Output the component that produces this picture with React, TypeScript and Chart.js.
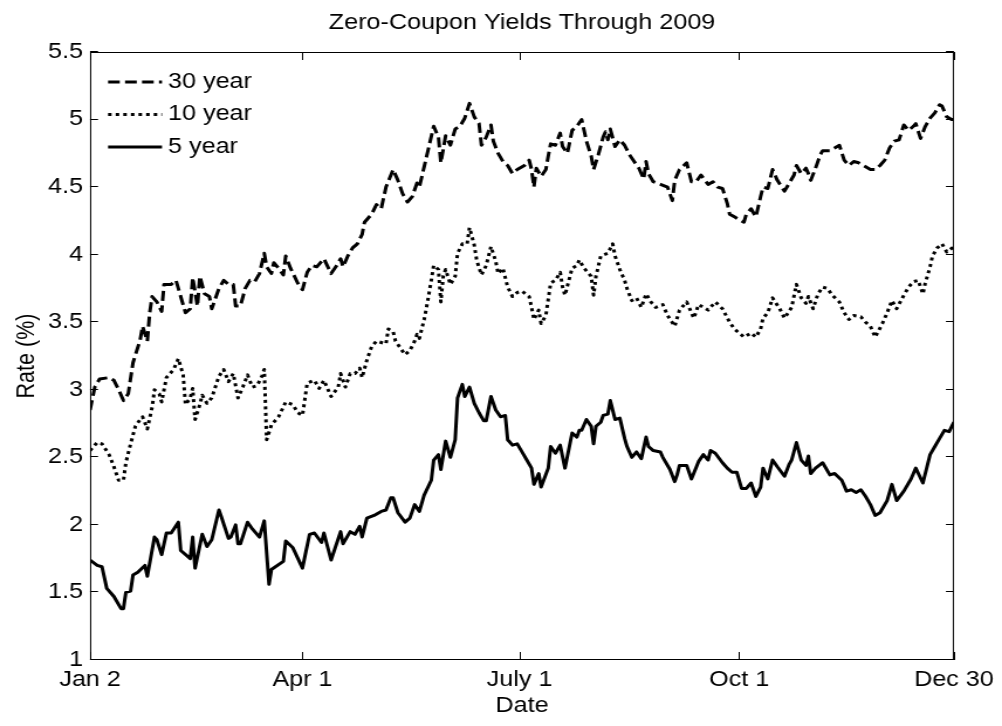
import React, { useEffect, useRef } from 'react';
import { Chart, registerables } from 'chart.js';

Chart.register(...registerables);

const FONT = '"Liberation Sans", Arial, Helvetica, sans-serif';
const TEXT_SIZE = 21.5;
const TITLE_SIZE = 21.5;

// The figure is drawn on a canvas that is displayed slightly stretched horizontally,
// like the reference figure export.
const PAGE_W = 1002;
const PAGE_H = 726;
const STRETCH = 1.17;
const CANVAS_W = Math.round(PAGE_W / STRETCH);

const chartTitle = 'Zero-Coupon Yields Through 2009';
const xAxisTitle = 'Date';
const yAxisTitle = 'Rate (%)';

// x = day of 2009 (Jan 1 = 0)
const xTickDays = [1, 90, 181, 273, 363];
const xTickLabels = ['Jan 2', 'Apr 1', 'July 1', 'Oct 1', 'Dec 30'];
const yTickValues = [1, 1.5, 2, 2.5, 3, 3.5, 4, 4.5, 5, 5.5];

const seriesLabels = ['30 year', '10 year', '5 year'];

const thirtyYearDays = [1, 3, 5, 9, 11, 13, 15, 17, 19, 22, 23, 25, 26, 27, 29, 31, 32, 35, 37, 39, 41, 43, 44, 46, 47, 49, 51, 52, 55, 57, 59, 61, 62, 64, 66, 68, 70, 72, 74, 75, 77, 78, 80, 82, 83, 85, 88, 90, 92, 94, 96, 99, 102, 104, 106, 107, 109, 111, 113, 115, 116, 119, 121, 123, 125, 128, 130, 132, 134, 136, 138, 139, 141, 143, 145, 147, 148, 150, 152, 154, 156, 158, 160, 162, 164, 165, 167, 169, 170, 172, 174, 176, 178, 180, 183, 185, 186, 187, 188, 190, 192, 193, 194, 196, 198, 199, 201, 203, 205, 207, 208, 209, 211, 212, 214, 216, 217, 218, 219, 221, 223, 225, 227, 229, 231, 233, 234, 235, 237, 240, 243, 245, 246, 248, 251, 253, 255, 257, 260, 262, 264, 266, 268, 269, 271, 273, 275, 276, 278, 280, 282, 283, 285, 287, 289, 292, 294, 296, 297, 299, 301, 302, 303, 305, 307, 308, 311, 313, 315, 317, 319, 321, 323, 326, 328, 330, 332, 334, 336, 338, 340, 342, 344, 346, 347, 349, 351, 353, 355, 357, 358, 360, 362, 363];
const thirtyYearRates = [2.85, 3.02, 3.08, 3.09, 3.07, 3.00, 2.92, 2.97, 3.20, 3.37, 3.47, 3.36, 3.57, 3.69, 3.65, 3.58, 3.78, 3.78, 3.81, 3.69, 3.57, 3.60, 3.83, 3.62, 3.84, 3.71, 3.69, 3.60, 3.75, 3.81, 3.78, 3.78, 3.62, 3.62, 3.75, 3.81, 3.80, 3.86, 4.01, 3.91, 3.86, 3.94, 3.90, 3.85, 3.99, 3.90, 3.79, 3.74, 3.87, 3.92, 3.91, 3.97, 3.86, 3.91, 3.97, 3.91, 3.99, 4.05, 4.08, 4.15, 4.24, 4.30, 4.37, 4.34, 4.50, 4.63, 4.55, 4.45, 4.39, 4.43, 4.53, 4.50, 4.65, 4.80, 4.95, 4.87, 4.68, 4.88, 4.81, 4.93, 4.95, 5.01, 5.12, 5.02, 4.97, 4.81, 4.87, 4.96, 4.84, 4.75, 4.69, 4.66, 4.60, 4.63, 4.66, 4.70, 4.63, 4.50, 4.64, 4.58, 4.63, 4.73, 4.82, 4.81, 4.90, 4.80, 4.75, 4.92, 4.95, 5.00, 4.92, 4.84, 4.73, 4.63, 4.74, 4.87, 4.91, 4.85, 4.93, 4.80, 4.85, 4.81, 4.74, 4.69, 4.64, 4.56, 4.69, 4.60, 4.54, 4.52, 4.50, 4.40, 4.55, 4.63, 4.68, 4.54, 4.54, 4.59, 4.52, 4.54, 4.50, 4.49, 4.38, 4.30, 4.28, 4.26, 4.24, 4.30, 4.34, 4.28, 4.43, 4.50, 4.49, 4.63, 4.55, 4.47, 4.53, 4.59, 4.66, 4.60, 4.64, 4.60, 4.55, 4.64, 4.74, 4.77, 4.77, 4.79, 4.81, 4.70, 4.66, 4.69, 4.68, 4.65, 4.63, 4.63, 4.66, 4.70, 4.79, 4.84, 4.85, 4.96, 4.92, 4.95, 4.97, 4.86, 4.95, 5.01, 5.05, 5.11, 5.10, 5.02, 5.00, 5.00];

const tenYearDays = [1, 4, 6, 9, 11, 13, 15, 16, 18, 20, 22, 23, 25, 27, 28, 30, 31, 33, 36, 38, 40, 41, 43, 44, 45, 47, 48, 50, 52, 55, 57, 59, 61, 63, 65, 67, 69, 71, 73, 74, 75, 77, 80, 83, 86, 88, 90, 92, 95, 97, 99, 102, 105, 106, 108, 110, 112, 114, 115, 117, 119, 121, 123, 125, 126, 128, 129, 131, 133, 135, 137, 138, 139, 141, 142, 144, 145, 147, 148, 149, 150, 152, 154, 155, 157, 159, 160, 162, 163, 165, 167, 169, 171, 172, 174, 176, 178, 180, 182, 185, 186, 187, 189, 190, 192, 194, 196, 198, 199, 200, 203, 205, 206, 208, 211, 212, 213, 215, 218, 220, 221, 223, 225, 226, 228, 230, 232, 234, 236, 238, 241, 243, 246, 248, 251, 254, 256, 260, 263, 266, 269, 271, 275, 278, 280, 282, 283, 285, 287, 290, 292, 295, 297, 299, 301, 302, 304, 306, 308, 310, 312, 315, 317, 319, 321, 324, 326, 328, 330, 333, 335, 337, 339, 342, 344, 346, 348, 350, 351, 353, 354, 356, 358, 360, 363];
const tenYearRates = [2.55, 2.61, 2.60, 2.52, 2.43, 2.33, 2.33, 2.46, 2.60, 2.73, 2.78, 2.80, 2.71, 2.87, 3.00, 2.97, 2.91, 3.09, 3.15, 3.23, 3.11, 2.89, 2.94, 3.01, 2.78, 2.89, 2.96, 2.90, 2.94, 3.10, 3.15, 3.06, 3.12, 2.94, 3.02, 3.11, 3.02, 3.03, 3.10, 3.15, 2.63, 2.74, 2.80, 2.91, 2.89, 2.83, 2.81, 3.05, 3.07, 3.01, 3.07, 2.95, 3.02, 3.12, 3.02, 3.12, 3.12, 3.16, 3.09, 3.22, 3.32, 3.36, 3.35, 3.34, 3.45, 3.43, 3.36, 3.31, 3.26, 3.29, 3.36, 3.41, 3.38, 3.52, 3.61, 3.81, 3.92, 3.89, 3.65, 3.84, 3.89, 3.78, 3.84, 4.01, 4.08, 4.08, 4.20, 4.07, 3.96, 3.85, 3.92, 4.06, 3.95, 3.86, 3.90, 3.76, 3.69, 3.72, 3.73, 3.69, 3.61, 3.52, 3.59, 3.49, 3.55, 3.79, 3.81, 3.87, 3.76, 3.70, 3.90, 3.92, 3.96, 3.90, 3.84, 3.70, 3.84, 3.99, 4.01, 4.08, 3.99, 3.89, 3.81, 3.75, 3.66, 3.68, 3.61, 3.71, 3.65, 3.61, 3.63, 3.55, 3.47, 3.59, 3.65, 3.53, 3.63, 3.59, 3.65, 3.60, 3.50, 3.45, 3.39, 3.42, 3.39, 3.45, 3.53, 3.57, 3.68, 3.60, 3.53, 3.61, 3.78, 3.68, 3.64, 3.69, 3.60, 3.71, 3.76, 3.75, 3.70, 3.65, 3.57, 3.52, 3.55, 3.54, 3.50, 3.47, 3.39, 3.49, 3.57, 3.66, 3.60, 3.70, 3.76, 3.80, 3.81, 3.71, 3.79, 3.91, 3.99, 4.05, 4.08, 4.02, 4.06];

const fiveYearDays = [1, 4, 6, 8, 11, 14, 15, 16, 18, 19, 21, 24, 25, 28, 29, 31, 33, 35, 38, 39, 43, 44, 45, 48, 50, 52, 55, 56, 59, 60, 62, 63, 64, 67, 69, 72, 74, 76, 77, 82, 83, 86, 90, 93, 95, 98, 99, 102, 106, 107, 110, 112, 114, 115, 117, 120, 123, 125, 127, 128, 130, 133, 135, 137, 139, 141, 144, 145, 147, 148, 150, 152, 154, 155, 157, 158, 160, 162, 164, 166, 167, 169, 171, 173, 175, 176, 178, 180, 182, 184, 186, 187, 189, 190, 193, 194, 196, 198, 200, 203, 205, 206, 207, 209, 211, 212, 213, 215, 216, 218, 219, 221, 223, 225, 226, 228, 230, 232, 234, 235, 237, 240, 241, 244, 246, 247, 248, 251, 253, 256, 258, 260, 261, 263, 266, 268, 270, 272, 274, 276, 278, 280, 282, 283, 285, 287, 289, 292, 294, 295, 297, 299, 301, 302, 303, 305, 308, 311, 313, 316, 318, 320, 322, 324, 326, 328, 330, 332, 335, 337, 339, 342, 345, 347, 350, 351, 353, 355, 357, 359, 361, 363];
const fiveYearRates = [1.74, 1.70, 1.69, 1.53, 1.47, 1.38, 1.38, 1.50, 1.51, 1.63, 1.65, 1.70, 1.62, 1.91, 1.89, 1.78, 1.94, 1.94, 2.02, 1.81, 1.75, 1.91, 1.68, 1.93, 1.84, 1.89, 2.11, 2.06, 1.90, 1.91, 2.00, 1.86, 1.86, 2.02, 1.97, 1.91, 2.03, 1.56, 1.67, 1.73, 1.88, 1.83, 1.68, 1.93, 1.94, 1.87, 1.94, 1.74, 1.95, 1.86, 1.95, 1.93, 1.99, 1.91, 2.05, 2.07, 2.10, 2.11, 2.20, 2.20, 2.09, 2.02, 2.05, 2.15, 2.10, 2.22, 2.33, 2.48, 2.52, 2.41, 2.62, 2.50, 2.63, 2.94, 3.04, 2.95, 3.02, 2.90, 2.83, 2.77, 2.77, 2.95, 2.85, 2.80, 2.81, 2.63, 2.59, 2.60, 2.54, 2.48, 2.42, 2.30, 2.38, 2.28, 2.42, 2.58, 2.53, 2.59, 2.42, 2.68, 2.65, 2.70, 2.70, 2.78, 2.73, 2.60, 2.73, 2.76, 2.81, 2.82, 2.92, 2.78, 2.79, 2.64, 2.58, 2.50, 2.54, 2.49, 2.65, 2.58, 2.55, 2.54, 2.50, 2.41, 2.32, 2.37, 2.44, 2.44, 2.34, 2.47, 2.52, 2.48, 2.55, 2.53, 2.46, 2.42, 2.39, 2.39, 2.27, 2.27, 2.31, 2.21, 2.28, 2.42, 2.34, 2.48, 2.43, 2.36, 2.45, 2.48, 2.61, 2.48, 2.44, 2.51, 2.38, 2.42, 2.46, 2.37, 2.38, 2.33, 2.25, 2.26, 2.24, 2.26, 2.21, 2.15, 2.07, 2.09, 2.18, 2.30, 2.18, 2.25, 2.34, 2.42, 2.31, 2.38, 2.52, 2.58, 2.64, 2.70, 2.69, 2.76];

const toPoints = (days: number[], rates: number[]) =>
  days.map((d, i) => ({ x: d, y: rates[i] }));

const framePlugin = {
  id: 'matlabFrame',
  afterDraw(chart: any) {
    const { ctx, chartArea, scales } = chart;
    const { left, right, top, bottom } = chartArea;
    const hTick = 8 / STRETCH;
    const vTick = 8;
    ctx.save();
    ctx.setLineDash([]);
    ctx.strokeStyle = '#000';
    ctx.lineWidth = 1;
    ctx.strokeRect(left + 0.5, top + 0.5, right - left - 1, bottom - top - 1);
    ctx.beginPath();
    yTickValues.forEach((v) => {
      const py = Math.round(scales.y.getPixelForValue(v)) - 0.5;
      ctx.moveTo(left, py);
      ctx.lineTo(left + hTick, py);
      ctx.moveTo(right, py);
      ctx.lineTo(right - hTick, py);
    });
    xTickDays.forEach((v) => {
      const px = Math.round(scales.x.getPixelForValue(v)) + 0.5;
      ctx.moveTo(px, bottom);
      ctx.lineTo(px, bottom - vTick);
      ctx.moveTo(px, top);
      ctx.lineTo(px, top + vTick);
    });
    ctx.stroke();
    // title, centred over the axes box
    ctx.font = `${TITLE_SIZE}px ${FONT}`;
    ctx.fillStyle = '#000';
    ctx.textAlign = 'center';
    ctx.textBaseline = 'middle';
    ctx.fillText(chartTitle, (left + right) / 2, 23);
    ctx.restore();
  },
};

const legendPlugin = {
  id: 'insideLegend',
  afterDatasetsDraw(chart: any) {
    const { ctx, chartArea } = chart;
    const { left, top } = chartArea;
    chart.data.datasets.forEach((ds: any, i: number) => {
      const yy = top + 30 + i * 32.5;
      ctx.save();
      ctx.strokeStyle = ds.borderColor;
      ctx.lineWidth = ds.borderWidth;
      ctx.lineCap = 'butt';
      ctx.setLineDash(ds.borderDash || []);
      ctx.beginPath();
      ctx.moveTo(left + 15.4, yy);
      ctx.lineTo(left + 61.5, yy);
      ctx.stroke();
      ctx.setLineDash([]);
      ctx.font = `${TEXT_SIZE}px ${FONT}`;
      ctx.fillStyle = '#000';
      ctx.textBaseline = 'middle';
      ctx.textAlign = 'left';
      ctx.fillText(ds.label, left + 66.6, yy);
      ctx.restore();
    });
  },
};

export default function App() {
  const canvasRef = useRef<HTMLCanvasElement>(null);

  useEffect(() => {
    const canvas = canvasRef.current;
    if (!canvas) return;
    const font = { family: FONT, size: TEXT_SIZE, weight: 'normal' as const };
    const lineStyle = {
      borderColor: '#000',
      borderWidth: 3,
      pointRadius: 0,
      tension: 0,
      fill: false,
      borderJoinStyle: 'round' as const,
      borderCapStyle: 'butt' as const,
    };
    const chart = new Chart(canvas, {
      type: 'line',
      data: {
        datasets: [
          { ...lineStyle, label: seriesLabels[0], data: toPoints(thirtyYearDays, thirtyYearRates), borderDash: [10, 4.5] },
          { ...lineStyle, label: seriesLabels[1], data: toPoints(tenYearDays, tenYearRates), borderDash: [3, 3.5] },
          { ...lineStyle, label: seriesLabels[2], data: toPoints(fiveYearDays, fiveYearRates), borderDash: [] },
        ],
      },
      options: {
        responsive: false,
        animation: false,
        devicePixelRatio: 1,
        layout: { padding: { left: 0, right: CANVAS_W - 958 / STRETCH, top: 52, bottom: 0 } },
        plugins: {
          legend: { display: false },
          tooltip: { enabled: false },
          title: { display: false },
        },
        scales: {
          x: {
            type: 'linear',
            min: 1,
            max: 363,
            afterBuildTicks: (scale: any) => {
              scale.ticks = xTickDays.map((v) => ({ value: v }));
            },
            afterFit: (scale: any) => {
              scale.height = 66;
            },
            ticks: {
              autoSkip: false,
              maxRotation: 0,
              padding: 7,
              color: '#000',
              font,
              callback: (v: any) => xTickLabels[xTickDays.indexOf(Number(v))],
            },
            grid: { display: false, drawTicks: false },
            border: { display: false },
            title: { display: true, text: xAxisTitle, color: '#000', font, padding: { top: 0, bottom: 7 } },
          },
          y: {
            type: 'linear',
            min: 1,
            max: 5.5,
            afterBuildTicks: (scale: any) => {
              scale.ticks = yTickValues.map((v) => ({ value: v }));
            },
            afterFit: (scale: any) => {
              scale.width = 90 / STRETCH;
            },
            ticks: {
              padding: 6,
              color: '#000',
              font,
              callback: (v: any) => String(v),
            },
            grid: { display: false, drawTicks: false },
            border: { display: false },
            title: { display: true, text: yAxisTitle, color: '#000', font, padding: { top: 10, bottom: 0 } },
          },
        },
      },
      plugins: [framePlugin, legendPlugin],
    });
    return () => chart.destroy();
  }, []);

  return (
    <div style={{ position: 'fixed', left: 0, top: 0, width: PAGE_W, height: PAGE_H, background: '#fff' }}>
      <canvas
        ref={canvasRef}
        width={CANVAS_W}
        height={PAGE_H}
        style={{ display: 'block', width: PAGE_W, height: PAGE_H }}
      />
    </div>
  );
}
